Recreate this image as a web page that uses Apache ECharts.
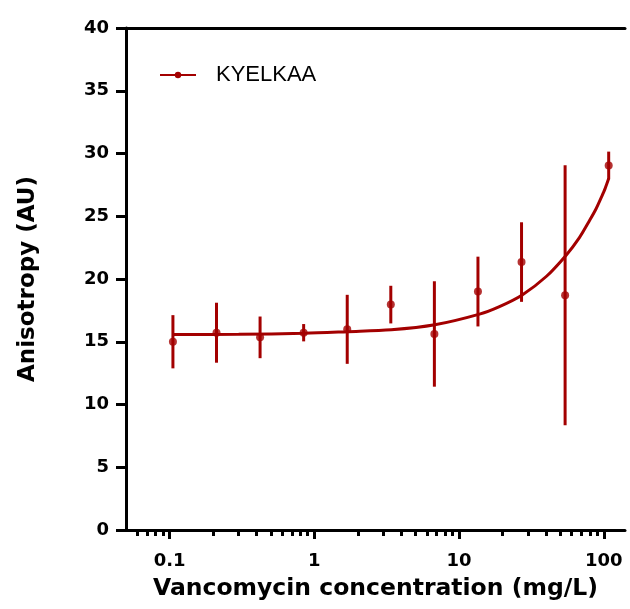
<!DOCTYPE html>
<html>
<head>
<meta charset="utf-8">
<script src="https://cdn.jsdelivr.net/npm/echarts@6/dist/echarts.min.js"></script>
<style>html,body{margin:0;padding:0;background:#fff;}#c{width:630px;height:609px;}</style>
</head>
<body>
<div id="c"></div>
<script>
// concentrations (mg/L), two-fold dilutions from 108
var concentrations = [0.10546875, 0.2109375, 0.421875, 0.84375, 1.6875, 3.375, 6.75, 13.5, 27, 54, 108];
var meanValues = [15.0, 15.72, 15.35, 15.72, 15.99, 17.96, 15.62, 19.0, 21.35, 18.70, 29.05];
var errValues  = [2.12, 2.39, 1.66, 0.69, 2.75, 1.5, 4.2, 2.78, 3.17, 10.36, 1.1];
// fitted curve
var fitX = [0.105, 0.3, 0.85, 1.7, 3.4, 6.8, 13.85, 19, 27.3, 40, 54.9, 67.8, 80, 88.4, 96, 102, 108];
var fitY = [15.57, 15.6, 15.67, 15.8, 15.95, 16.35, 17.2, 17.8, 18.73, 20.2, 21.9, 23.3, 24.7, 25.6, 26.5, 27.2, 28.0];
var majorTicks = [0.1, 1, 10, 100];
var minorTicks = [0.06,0.07,0.08,0.09,0.2,0.3,0.4,0.5,0.6,0.7,0.8,0.9,2,3,4,5,6,7,8,9,20,30,40,50,60,70,80,90];
var seriesName = 'KYELKAA';
var xTitle = 'Vancomycin concentration (mg/L)';
var yTitle = 'Anisotropy (AU)';

var RED = '#a30000';
var chart = echarts.init(document.getElementById('c'), null, {renderer: 'canvas'});

var points = concentrations.map(function (c, i) { return [c, meanValues[i]]; });
var bars = concentrations.map(function (c, i) { return [c, meanValues[i] - errValues[i], meanValues[i] + errValues[i]]; });
var fit = fitX.map(function (x, i) { return [x, fitY[i]]; });

var axisFont = {fontFamily: 'DejaVu Sans', fontWeight: 'bold', color: '#000'};

chart.setOption({
  animation: false,
  backgroundColor: '#fff',
  grid: {left: 126, right: 5, top: 28, bottom: 79},
  legend: {
    show: true,
    left: 154, top: 59,
    itemWidth: 36, itemHeight: 8,
    data: [seriesName],
    textStyle: {fontFamily: 'Liberation Sans', fontSize: 22, color: '#000', padding: [0, 0, 0, 15]}
  },
  xAxis: [
    {
      type: 'log', logBase: 10, min: 0.05, max: 140, position: 'bottom',
      name: xTitle, nameLocation: 'middle', nameGap: 47,
      nameTextStyle: Object.assign({fontSize: 23.5}, axisFont),
      axisLine: {show: true, onZero: false, lineStyle: {color: '#000', width: 3}},
      axisTick: {show: true, customValues: majorTicks, length: 9, lineStyle: {color: '#000', width: 3}},
      axisLabel: Object.assign({show: true, customValues: majorTicks, fontSize: 18, margin: 22,
        formatter: function (v) { return String(+v.toPrecision(6)); }}, axisFont),
      splitLine: {show: false}, minorTick: {show: false}, minorSplitLine: {show: false}
    },
    {
      type: 'log', logBase: 10, min: 0.05, max: 140, position: 'bottom',
      axisLine: {show: false, onZero: false},
      axisTick: {show: true, customValues: minorTicks, length: 6, lineStyle: {color: '#000', width: 3}},
      axisLabel: {show: false},
      splitLine: {show: false}
    },
    {
      type: 'log', logBase: 10, min: 0.05, max: 140, position: 'top',
      axisLine: {show: true, onZero: false, lineStyle: {color: '#000', width: 3}},
      axisTick: {show: false}, axisLabel: {show: false}, splitLine: {show: false}
    }
  ],
  yAxis: {
    type: 'value', min: 0, max: 40, interval: 5,
    name: yTitle, nameLocation: 'middle', nameGap: 86, nameRotate: 90,
    nameTextStyle: Object.assign({fontSize: 23}, axisFont),
    axisLine: {show: true, lineStyle: {color: '#000', width: 3}},
    axisTick: {show: true, length: 10, lineStyle: {color: '#000', width: 3}},
    axisLabel: Object.assign({fontSize: 18, margin: 17}, axisFont),
    splitLine: {show: false}
  },
  series: [
    {
      name: seriesName, type: 'line', xAxisIndex: 0, data: fit,
      smooth: 0.3, symbol: 'circle', symbolSize: 8, showSymbol: false,
      lineStyle: {color: RED, width: 3}, itemStyle: {color: RED}, z: 3
    },
    {
      name: 'bars', type: 'custom', xAxisIndex: 0, data: bars,
      renderItem: function (params, api) {
        var top = api.coord([api.value(0), api.value(2)]);
        var bot = api.coord([api.value(0), api.value(1)]);
        return {type: 'line', shape: {x1: top[0], y1: top[1], x2: bot[0], y2: bot[1]},
                style: {stroke: RED, lineWidth: 3}};
      },
      encode: {x: 0, y: [1, 2]}, z: 2
    },
    {
      name: 'points', type: 'scatter', xAxisIndex: 0, data: points,
      symbol: 'circle', symbolSize: 8, itemStyle: {color: RED}, z: 4
    }
  ]
});
</script>
</body>
</html>
